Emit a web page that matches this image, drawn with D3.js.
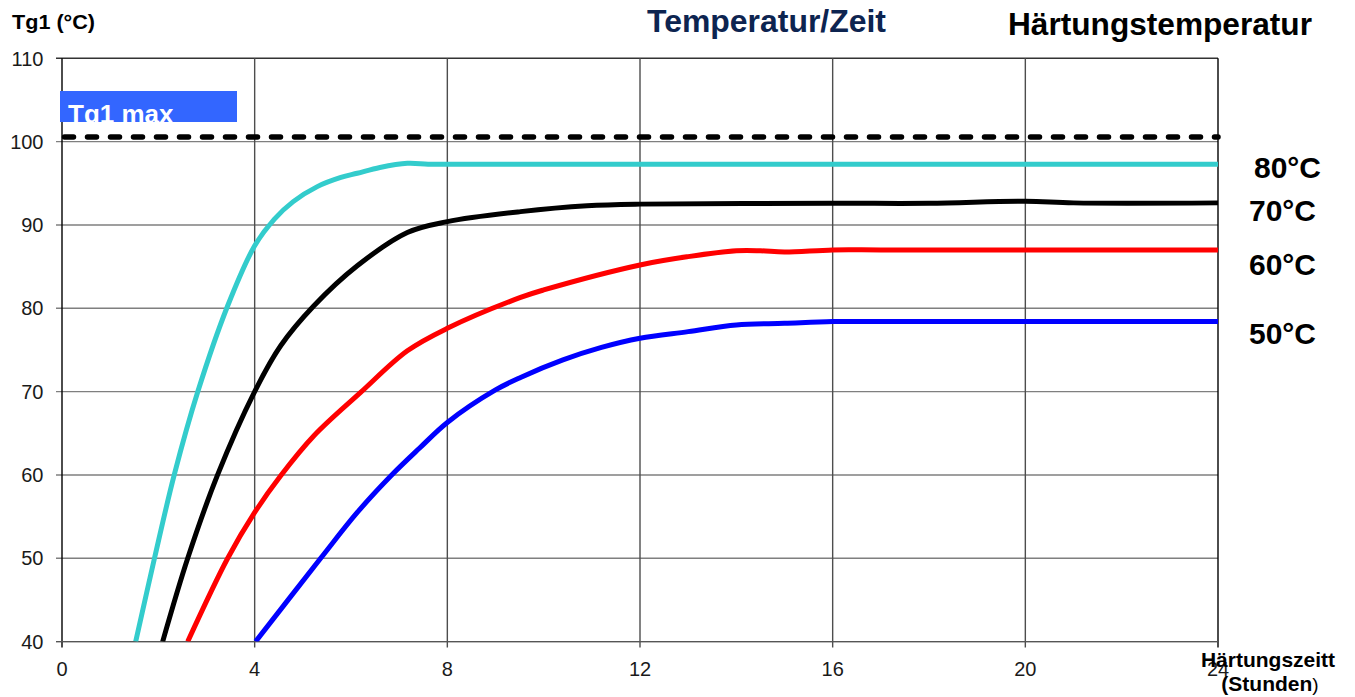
<!DOCTYPE html>
<html>
<head>
<meta charset="utf-8">
<script src="https://cdn.jsdelivr.net/npm/d3@7"></script>
<style>
    body { margin: 0; background: #ffffff; }
    svg { display: block; font-family: "Liberation Sans", Arial, sans-serif; }
</style>
</head>
<body>
<div id="chart_div"></div>
<script>
// hours / Tg1 values
const curve_80 = [[1.53, 40], [1.92, 50], [2.33, 60], [2.82, 70], [3.44, 80.3], [4.0, 87.5], [4.41, 90.7],
    [4.8, 92.8], [5.3, 94.6], [5.79, 95.7], [6.13, 96.2], [6.6, 96.9], [7.17, 97.4], [7.6, 97.3], [8, 97.3],
    [12, 97.3], [16, 97.3], [20, 97.3], [24, 97.3]];
const curve_70 = [[2.09, 40], [2.61, 50], [3.23, 60], [4.0, 70], [4.54, 75.5], [5.23, 80.3], [6.13, 85.1],
    [7.17, 89.1], [8, 90.4], [9.52, 91.6], [10.9, 92.3], [12, 92.5], [16, 92.6], [18, 92.6], [20, 92.85],
    [21, 92.65], [24, 92.65]];
const curve_60 = [[2.61, 40], [3.44, 50], [4.0, 55.5], [4.54, 59.9], [5.23, 64.7], [6.2, 69.9], [7.17, 74.9],
    [8, 77.6], [9.52, 81.3], [10, 82.2], [12, 85.2], [13, 86.2], [14, 86.9], [14.5, 86.9], [15, 86.75],
    [16, 87.0], [17, 87.0], [20, 87.0], [24, 87.0]];
const curve_50 = [[4.02, 40], [5.37, 50], [6.13, 55.5], [6.83, 59.9], [7.42, 63.2], [8, 66.3], [9.0, 70.2],
    [9.52, 71.7], [10.4, 73.8], [11.2, 75.3], [12, 76.4], [13, 77.2], [14, 78.0], [15, 78.2], [16, 78.4],
    [17, 78.4], [20, 78.4], [24, 78.4]];
const tg_max = 100.55;

const series_labels = ['80°C', '70°C', '60°C', '50°C'];
const series_colors = ['#33cccc', '#000000', '#ff0000', '#0000ff'];
const label_baselines = [178, 221, 275, 344];

const x_ticks = [0, 4, 8, 12, 16, 20, 24];
const y_ticks = [40, 50, 60, 70, 80, 90, 100, 110];

let svg = d3.select('#chart_div').append('svg')
    .attr('width', 1355)
    .attr('height', 697);

let margin = {top: 58.3, left: 62, bottom: 697 - 641.6, right: 1355 - 1218};

let x = d3.scaleLinear().domain([0, 24]).range([margin.left, 1355 - margin.right]);
let y = d3.scaleLinear().domain([40, 110]).range([697 - margin.bottom, margin.top]);

svg.append('defs').append('clipPath').attr('id', 'plot_clip')
    .append('rect')
    .attr('x', x(0)).attr('y', y(110) - 10)
    .attr('width', x(24) - x(0) + 4).attr('height', y(40) - y(110) + 10);

// grid
svg.append('g').selectAll('line')
    .data(y_ticks)
    .join('line')
    .attr('x1', x(0) - 6).attr('x2', x(24))
    .attr('y1', d => y(d)).attr('y2', d => y(d))
    .attr('stroke', d => d === 110 ? '#333333' : '#7f7f7f')
    .attr('stroke-width', 1.4);

svg.append('g').selectAll('line')
    .data(x_ticks.filter(d => d > 0 && d < 24))
    .join('line')
    .attr('x1', d => x(d)).attr('x2', d => x(d))
    .attr('y1', y(110)).attr('y2', y(40) + 6)
    .attr('stroke', '#4d4d4d')
    .attr('stroke-width', 1.4);

// axes
svg.append('line')
    .attr('x1', x(0)).attr('x2', x(0))
    .attr('y1', y(110)).attr('y2', y(40) + 6)
    .attr('stroke', '#000').attr('stroke-width', 1.4);
svg.append('line')
    .attr('x1', x(24)).attr('x2', x(24))
    .attr('y1', y(110)).attr('y2', y(40) + 6)
    .attr('stroke', '#000').attr('stroke-width', 1.4);
svg.append('line')
    .attr('x1', x(0) - 6).attr('x2', x(24))
    .attr('y1', y(40)).attr('y2', y(40))
    .attr('stroke', '#555').attr('stroke-width', 1.4);

// tick labels
svg.append('g').selectAll('text')
    .data(y_ticks)
    .join('text')
    .attr('x', 43.5)
    .attr('y', d => y(d))
    .attr('dy', '0.36em')
    .attr('text-anchor', 'end')
    .attr('font-size', 20)
    .attr('fill', '#1a1a1a')
    .text(d => d);

svg.append('g').selectAll('text')
    .data(x_ticks)
    .join('text')
    .attr('x', d => x(d))
    .attr('y', 676)
    .attr('text-anchor', 'middle')
    .attr('font-size', 20)
    .attr('fill', '#1a1a1a')
    .text(d => d);

// Tg1 max line and box
svg.append('line')
    .attr('x1', x(0) + 2.5).attr('x2', x(24))
    .attr('y1', y(tg_max)).attr('y2', y(tg_max))
    .attr('stroke', '#000')
    .attr('stroke-width', 5.5)
    .attr('stroke-linecap', 'round')
    .attr('stroke-dasharray', '9,14');

svg.append('clipPath').attr('id', 'box_clip')
    .append('rect').attr('x', 60).attr('y', 91).attr('width', 177).attr('height', 31);
svg.append('rect')
    .attr('x', 60).attr('y', 91).attr('width', 177).attr('height', 31)
    .attr('fill', '#3366ff');
svg.append('text')
    .attr('clip-path', 'url(#box_clip)')
    .attr('x', 68).attr('y', 122.5)
    .attr('font-size', 26).attr('font-weight', 'bold')
    .attr('fill', '#ffffff')
    .text('Tg1 max');

// curves
let line = d3.line()
    .x(d => x(d[0]))
    .y(d => y(d[1]))
    .curve(d3.curveCatmullRom.alpha(0.5));

let curves = [curve_80, curve_70, curve_60, curve_50];

svg.append('g').attr('clip-path', 'url(#plot_clip)')
    .selectAll('path')
    .data(curves)
    .join('path')
    .attr('d', d => line(d))
    .attr('fill', 'none')
    .attr('stroke', (d, i) => series_colors[i])
    .attr('stroke-width', 5)
    .attr('stroke-linejoin', 'round');

// series labels on the right
svg.append('g').selectAll('text')
    .data(series_labels)
    .join('text')
    .attr('x', (d, i) => i === 0 ? 1254 : 1249)
    .attr('y', (d, i) => label_baselines[i])
    .attr('font-size', 30)
    .attr('font-weight', 'bold')
    .attr('fill', '#000')
    .text(d => d);

// axis titles
svg.append('text')
    .attr('x', 12).attr('y', 28.5)
    .attr('font-size', 20).attr('font-weight', 'bold')
    .attr('textLength', 83).attr('lengthAdjust', 'spacingAndGlyphs')
    .text('Tg1 (°C)');

svg.append('text')
    .attr('x', 1268).attr('y', 667)
    .attr('text-anchor', 'middle')
    .attr('font-size', 21).attr('font-weight', 'bold')
    .text('Härtungszeitt');

let x_title2 = svg.append('text')
    .attr('x', 1270).attr('y', 691)
    .attr('text-anchor', 'middle')
    .attr('font-size', 21).attr('font-weight', 'bold');
x_title2.append('tspan').text('(Stunden');
x_title2.append('tspan').attr('font-weight', 'normal').attr('font-size', 19).text(')');

// titles
svg.append('text')
    .attr('x', 647).attr('y', 31.7)
    .attr('font-size', 31).attr('font-weight', 'bold')
    .attr('fill', '#0d2450')
    .attr('textLength', 239).attr('lengthAdjust', 'spacingAndGlyphs')
    .text('Temperatur/Zeit');

svg.append('text')
    .attr('x', 1008).attr('y', 35)
    .attr('font-size', 31).attr('font-weight', 'bold')
    .attr('fill', '#000')
    .attr('textLength', 304).attr('lengthAdjust', 'spacingAndGlyphs')
    .text('Härtungstemperatur');
</script>
</body>
</html>
